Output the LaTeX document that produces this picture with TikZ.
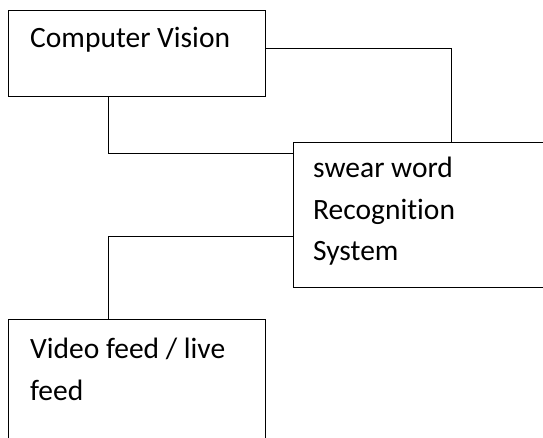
\documentclass[tikz,border=0pt]{standalone}
\usepackage{fontspec}
\setmainfont{Carlito}[Ligatures={NoCommon,NoRare}]
\begin{document}
\begin{tikzpicture}[x=1pt,y=-1pt,
  box/.style={draw=black, line width=1.3pt, rectangle, inner sep=0pt, anchor=north west},
  lbl/.style={anchor=base west, inner sep=0pt, font=\fontsize{29.5}{41}\selectfont},
  conn/.style={draw=black, line width=1pt}]
\useasboundingbox (0,0) rectangle (543,438);
\clip (0,0) rectangle (543,438);
\fill[white] (0,0) rectangle (543,438);
\node[box, minimum width=257pt, minimum height=86pt] (cv) at (8,10) {};
\node[box, minimum width=270pt, minimum height=145pt] (swr) at (293,142) {};
\node[box, minimum width=257pt, minimum height=140pt] (vf) at (8,319) {};
\node[lbl] (t1) at (30,48) {Computer Vision};
\node[lbl] (t2) at (313,178) {swear word};
\node[lbl] (t3) at (313,220) {Recognition};
\node[lbl] (t4) at (313,261) {System};
\node[lbl] (t5) at (30,358) {Video feed / live};
\node[lbl] (t6) at (30,400) {feed};
\draw[conn] ([yshift=5pt]cv.east) -| ([xshift=158pt]swr.north west);
\draw[conn] ([xshift=-28.5pt]cv.south) |- ([yshift=-12pt]swr.north west);
\draw[conn] ([yshift=-95pt]swr.north west) -| ([xshift=-28.5pt]vf.north);
\end{tikzpicture}
\end{document}
